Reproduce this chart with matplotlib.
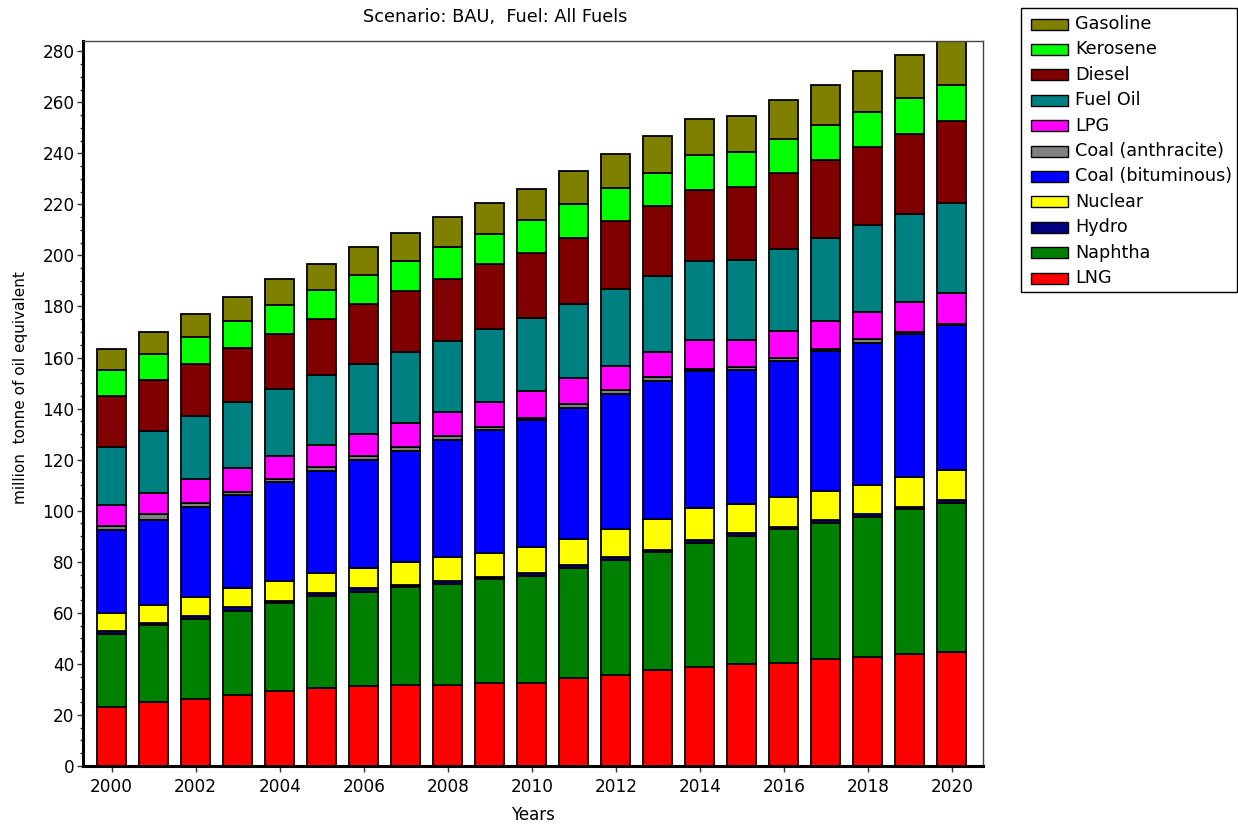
import matplotlib
matplotlib.use("Agg")
import matplotlib.pyplot as plt
from matplotlib.patches import Rectangle
import numpy as np

plt.rcParams['font.family'] = ['DejaVu Sans']

years = list(range(2000, 2021))

lng      = [23.2, 25.2, 26.4, 27.7, 29.5, 30.7, 31.4, 31.7, 31.7, 32.4, 32.4, 34.3, 35.6, 37.6, 38.9, 39.8, 40.5, 41.8, 42.6, 43.9, 44.5]
naphtha  = [28.7, 29.9, 31.3, 33.0, 34.4, 36.0, 36.8, 38.5, 39.6, 40.7, 42.1, 43.2, 45.1, 46.2, 48.5, 50.3, 52.2, 53.5, 55.0, 56.6, 58.6]
hydro    = [1.1, 1.0, 1.0, 1.4, 0.8, 0.9, 1.4, 0.7, 1.1, 0.8, 1.2, 1.2, 1.2, 1.0, 1.1, 1.0, 1.0, 1.0, 1.1, 1.0, 1.0]
nuclear  = [7.0, 6.9, 7.6, 7.5, 7.9, 8.1, 7.8, 9.1, 9.3, 9.6, 9.9, 10.3, 11.0, 11.8, 12.4, 11.5, 11.7, 11.5, 11.3, 11.8, 11.8]
coal_bit = [32.4, 33.4, 35.2, 36.4, 38.5, 39.8, 42.5, 43.4, 46.0, 48.0, 50.1, 51.3, 52.7, 54.1, 53.8, 52.4, 53.1, 54.6, 55.8, 56.0, 56.9]
coal_ant = [1.6, 2.3, 1.6, 1.4, 1.5, 1.7, 1.5, 1.6, 1.5, 1.4, 0.8, 1.4, 1.6, 1.5, 1.0, 1.4, 1.2, 1.1, 1.3, 0.8, 0.5]
lpg      = [8.2, 8.3, 9.2, 9.2, 8.8, 8.5, 8.8, 9.4, 9.5, 9.7, 10.3, 10.1, 9.5, 9.8, 11.1, 10.4, 10.8, 10.7, 10.8, 11.7, 12.0]
fuel_oil = [22.8, 24.3, 24.7, 26.0, 26.1, 27.4, 27.4, 27.8, 27.8, 28.5, 28.7, 29.1, 30.3, 30.0, 31.0, 31.6, 32.2, 32.8, 34.2, 34.6, 35.3]
diesel   = [20.1, 19.8, 20.4, 21.3, 21.6, 22.1, 23.3, 23.8, 24.4, 25.5, 25.5, 26.1, 26.5, 27.5, 28.0, 28.4, 29.4, 30.5, 30.4, 31.3, 31.9]
kerosene = [9.9, 10.2, 10.7, 10.5, 11.4, 11.4, 11.5, 11.7, 12.4, 11.7, 12.8, 13.0, 13.0, 12.9, 13.4, 13.7, 13.4, 13.7, 13.7, 14.1, 14.1]
gasoline = [8.3, 8.9, 9.0, 9.5, 10.2, 10.2, 10.8, 11.2, 11.7, 12.2, 12.4, 13.1, 13.3, 14.3, 14.1, 14.0, 15.3, 15.4, 15.9, 16.6, 17.9]

series_names = ["LNG", "Naphtha", "Hydro", "Nuclear", "Coal (bituminous)", "Coal (anthracite)",
                "LPG", "Fuel Oil", "Diesel", "Kerosene", "Gasoline"]
series_values = [lng, naphtha, hydro, nuclear, coal_bit, coal_ant, lpg, fuel_oil, diesel, kerosene, gasoline]
series_colors = ["#FF0000", "#008000", "#000080", "#FFFF00", "#0000FF", "#808080",
                 "#FF00FF", "#008080", "#800000", "#00FF00", "#808000"]

W, H = 1238, 825
fig = plt.figure(figsize=(W / 100, H / 100), dpi=100)
ax = fig.add_axes([83 / W, 1 - 766 / H, 900 / W, 725 / H])

bottom = np.zeros(len(years))
for name, vals, col in zip(series_names, series_values, series_colors):
    v = np.array(vals)
    ax.bar(years, v, width=0.69, bottom=bottom, color=col, edgecolor="black",
           linewidth=1.3, label=name)
    bottom += v

ax.set_xlim(1999.317, 2020.74)
ax.set_ylim(0, 284)
ax.set_yticks(np.arange(0, 281, 20))
ax.set_yticks(np.arange(0, 284, 5), minor=True)
ax.set_xticks(np.arange(2000, 2021, 2))
ax.tick_params(axis="both", which="major", labelsize=12.2, length=4, width=1, color="#333333")
ax.tick_params(axis="y", which="major", pad=2)
ax.tick_params(axis="x", which="major", pad=5)
ax.tick_params(axis="y", which="minor", length=2, width=1, color="#333333")

for s in ["left", "bottom"]:
    ax.spines[s].set_linewidth(2.2)
    ax.spines[s].set_color("black")
for s in ["top", "right"]:
    ax.spines[s].set_linewidth(1.0)
    ax.spines[s].set_color("#444444")

fig.text(495 / W, 1 - 17 / H, "Scenario: BAU,  Fuel: All Fuels", ha="center", va="center", fontsize=12.8)
fig.text(533 / W, 1 - 815 / H, "Years", ha="center", va="center", fontsize=12)
fig.text(21 / W, 1 - 388 / H, "million  tonne of oil equivalent", ha="center", va="center",
         rotation=90, fontsize=11)

# legend box
fig.add_artist(Rectangle((1021 / W, 1 - 292 / H), (1237 - 1021) / W, (292 - 8) / H,
                         transform=fig.transFigure, facecolor="white", edgecolor="black", linewidth=1.0))
for i, (name, col) in enumerate(zip(series_names[::-1], series_colors[::-1])):
    yc = 24 + 25.4 * i
    fig.add_artist(Rectangle((1031 / W, 1 - (yc + 5.5) / H), 37 / W, 11 / H,
                             transform=fig.transFigure, facecolor=col, edgecolor="black", linewidth=1.0))
    fig.text(1075 / W, 1 - yc / H, name, ha="left", va="center", fontsize=12.7)

fig.savefig("out.png", dpi=100)
